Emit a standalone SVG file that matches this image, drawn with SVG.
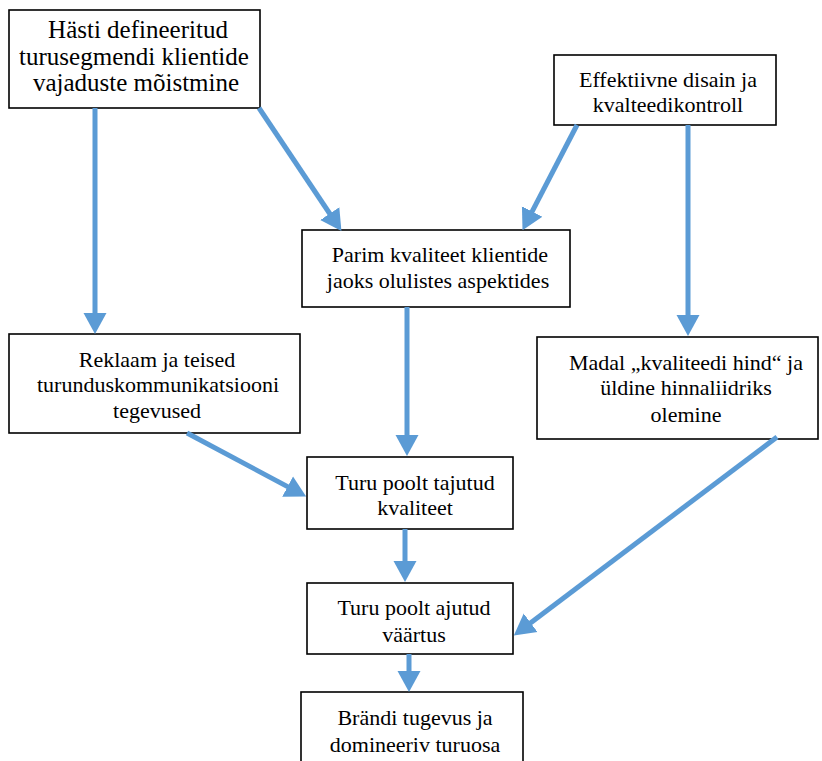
<svg xmlns="http://www.w3.org/2000/svg" width="822" height="761" viewBox="0 0 822 761">
  <defs>
    <marker id="head" viewBox="0 -12 21 24" markerWidth="21" markerHeight="24" refX="1" refY="0" orient="auto" markerUnits="userSpaceOnUse">
      <path d="M0,-11.5 L21,0 L0,11.5 Z" fill="#5B9BD5"/>
    </marker>
  </defs>
  <rect width="822" height="761" fill="#ffffff"/>

  <g id="n-segment">
    <rect x="9" y="10" width="251" height="98" fill="#ffffff" stroke="#000000" stroke-width="1.6"/>
    <text x="138" y="38" font-family="Liberation Serif" font-size="25" text-anchor="middle">Hästi defineeritud</text>
    <text x="134" y="65" font-family="Liberation Serif" font-size="25" text-anchor="middle">turusegmendi klientide</text>
    <text x="136" y="91" font-family="Liberation Serif" font-size="25" text-anchor="middle">vajaduste mõistmine</text>
  </g>

  <g id="n-design">
    <rect x="554" y="55" width="222" height="70" fill="#ffffff" stroke="#000000" stroke-width="1.6"/>
    <text x="668" y="87" font-family="Liberation Serif" font-size="22" text-anchor="middle">Effektiivne disain ja</text>
    <text x="668" y="112" font-family="Liberation Serif" font-size="22" text-anchor="middle">kvalteedikontroll</text>
  </g>

  <g id="n-quality">
    <rect x="302" y="230" width="268" height="77" fill="#ffffff" stroke="#000000" stroke-width="1.6"/>
    <text x="440" y="262" font-family="Liberation Serif" font-size="22" text-anchor="middle">Parim kvaliteet klientide</text>
    <text x="438" y="288" font-family="Liberation Serif" font-size="22" text-anchor="middle">jaoks olulistes aspektides</text>
  </g>

  <g id="n-ads">
    <rect x="9" y="334" width="291" height="99" fill="#ffffff" stroke="#000000" stroke-width="1.6"/>
    <text x="157" y="367" font-family="Liberation Serif" font-size="22" text-anchor="middle">Reklaam ja teised</text>
    <text x="158" y="392" font-family="Liberation Serif" font-size="22" text-anchor="middle">turunduskommunikatsiooni</text>
    <text x="157" y="418" font-family="Liberation Serif" font-size="22" text-anchor="middle">tegevused</text>
  </g>

  <g id="n-price">
    <rect x="537" y="337" width="281" height="102" fill="#ffffff" stroke="#000000" stroke-width="1.6"/>
    <text x="686" y="370" font-family="Liberation Serif" font-size="22" text-anchor="middle">Madal „kvaliteedi hind“ ja</text>
    <text x="686" y="395" font-family="Liberation Serif" font-size="22" text-anchor="middle">üldine hinnaliidriks</text>
    <text x="686" y="422" font-family="Liberation Serif" font-size="22" text-anchor="middle">olemine</text>
  </g>

  <g id="n-perceived">
    <rect x="307" y="457" width="206" height="72" fill="#ffffff" stroke="#000000" stroke-width="1.6"/>
    <text x="415" y="490" font-family="Liberation Serif" font-size="22" text-anchor="middle">Turu poolt tajutud</text>
    <text x="415" y="515" font-family="Liberation Serif" font-size="22" text-anchor="middle">kvaliteet</text>
  </g>

  <g id="n-value">
    <rect x="307" y="583" width="206" height="71" fill="#ffffff" stroke="#000000" stroke-width="1.6"/>
    <text x="414" y="615" font-family="Liberation Serif" font-size="22" text-anchor="middle">Turu poolt ajutud</text>
    <text x="414" y="642" font-family="Liberation Serif" font-size="22" text-anchor="middle">väärtus</text>
  </g>

  <g id="n-brand">
    <rect x="301" y="692" width="222" height="80" fill="#ffffff" stroke="#000000" stroke-width="1.6"/>
    <text x="415" y="725" font-family="Liberation Serif" font-size="22" text-anchor="middle">Brändi tugevus ja</text>
    <text x="415" y="752" font-family="Liberation Serif" font-size="22" text-anchor="middle">domineeriv turuosa</text>
  </g>

  <g id="connectors" stroke="#5B9BD5" stroke-width="5" fill="none" marker-end="url(#head)">
    <line x1="95" y1="108" x2="95" y2="314"/>
    <line x1="259" y1="108" x2="330.3" y2="214.5"/>
    <line x1="577" y1="125" x2="531.7" y2="212.4"/>
    <line x1="688" y1="125" x2="688" y2="316"/>
    <line x1="407" y1="307" x2="407" y2="436"/>
    <line x1="187" y1="433" x2="288.5" y2="487.1"/>
    <line x1="777" y1="437" x2="529.8" y2="623.4"/>
    <line x1="405" y1="529" x2="405" y2="562"/>
    <line x1="409" y1="654" x2="409" y2="672"/>
  </g>
</svg>
